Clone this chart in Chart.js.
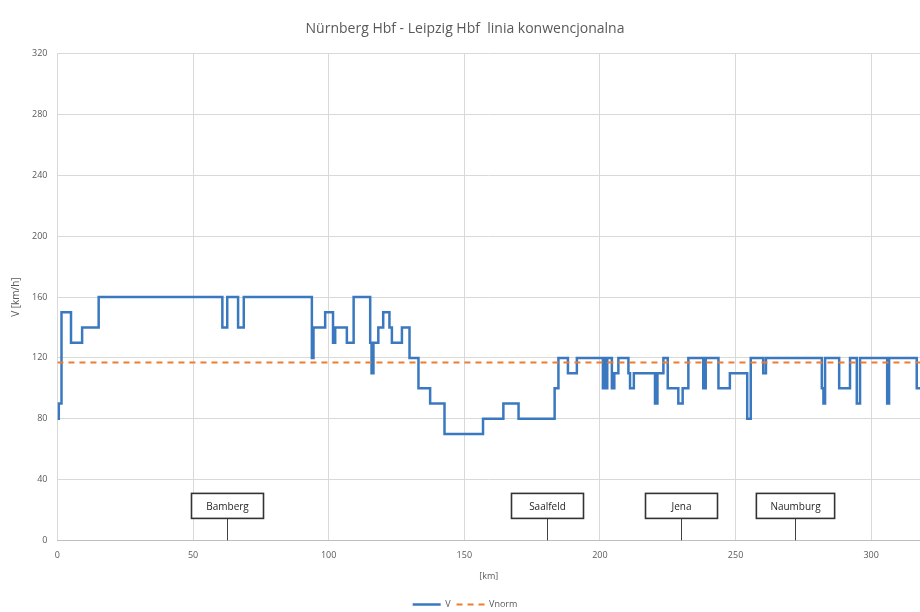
<!DOCTYPE html>
<html>
<head>
<meta charset="utf-8">
<script src="https://cdn.jsdelivr.net/npm/chart.js@4/dist/chart.umd.min.js"></script>
<style>
html,body{margin:0;padding:0;background:#fff;}
#wrap{width:920px;height:612px;}
</style>
</head>
<body>
<div id="wrap"><canvas id="c" width="920" height="612"></canvas></div>
<script>
// ---- data ----
const kmPoints = [0, 0.5, 1.5, 5.0, 9.1, 15.2, 60.8, 62.6, 66.6, 68.7, 93.8, 94.4, 98.7, 101.6, 102.4, 106.7, 109.2, 115.3, 115.8, 116.5, 118.3, 120.1, 122.4, 123.3, 127.0, 129.8, 133.1, 137.4, 142.7, 156.9, 164.4, 170.0, 183.3, 184.7, 188.2, 191.5, 201.1, 201.6, 202.2, 202.7, 204.4, 205.3, 206.8, 210.5, 211.1, 212.5, 220.3, 221.2, 223.4, 225.0, 228.9, 230.5, 232.6, 238.1, 239.0, 243.7, 247.9, 254.3, 255.6, 260.2, 261.2, 281.8, 282.4, 283.0, 288.2, 292.2, 294.7, 295.9, 305.9, 306.6, 316.8, 318];
const speedValues = [80, 90, 150, 130, 140, 160, 140, 160, 140, 160, 120, 140, 150, 130, 140, 130, 160, 130, 110, 130, 140, 150, 140, 130, 140, 120, 100, 90, 70, 80, 90, 80, 100, 120, 110, 120, 100, 120, 100, 120, 100, 110, 120, 110, 100, 110, 90, 110, 120, 100, 90, 100, 120, 100, 120, 100, 110, 80, 120, 110, 120, 100, 90, 120, 100, 120, 90, 120, 90, 120, 100, 100];
const vnormKm = [0, 318];
const vnormValues = [117, 117];
const stationNames = ['Bamberg', 'Saalfeld', 'Jena', 'Naumburg'];
const stationKm = [62.6, 180.5, 229.9, 271.9];
const seriesNames = ['V', 'Vnorm'];
const titleText = 'Nürnberg Hbf - Leipzig Hbf  linia konwencjonalna';
const xTitle = '[km]';
const yTitle = 'V [km/h]';

const FONT = "'Open Sans', Lato, 'Liberation Sans', sans-serif";

const stationPlugin = {
  id: 'stations',
  afterDatasetsDraw(chart) {
    const {ctx, chartArea, scales} = chart;
    ctx.save();
    ctx.font = '10px ' + FONT;
    stationNames.forEach((name, i) => {
      const x = Math.round(scales.x.getPixelForValue(stationKm[i])) + 0.5;
      const boxBottom = chartArea.bottom - 22;
      const boxTop = chartArea.bottom - 47;
      const tw = ctx.measureText(name).width;
      const w = Math.max(72, tw + 28);
      ctx.strokeStyle = '#404040';
      ctx.lineWidth = 1;
      ctx.beginPath();
      ctx.moveTo(x, boxBottom);
      ctx.lineTo(x, chartArea.bottom);
      ctx.stroke();
      ctx.fillStyle = '#ffffff';
      ctx.fillRect(x - w / 2, boxTop, w, boxBottom - boxTop);
      ctx.lineWidth = 1.6;
      ctx.strokeStyle = '#333333';
      ctx.strokeRect(x - w / 2, boxTop, w, boxBottom - boxTop);
      ctx.fillStyle = '#262626';
      ctx.textAlign = 'center';
      ctx.textBaseline = 'middle';
      ctx.fillText(name, x, (boxTop + boxBottom) / 2 + 1);
    });
    ctx.restore();
  }
};

const ctx = document.getElementById('c').getContext('2d');
new Chart(ctx, {
  type: 'line',
  data: {
    datasets: [
      {
        label: seriesNames[0],
        data: kmPoints.map((k, i) => ({x: k, y: speedValues[i]})),
        borderColor: '#3a78bf',
        backgroundColor: '#3a78bf',
        borderWidth: 2.5,
        stepped: true,
        pointRadius: 0,
        fill: false,
        order: 2
      },
      {
        label: seriesNames[1],
        data: vnormKm.map((k, i) => ({x: k, y: vnormValues[i]})),
        borderColor: '#ED7D31',
        backgroundColor: '#ED7D31',
        borderWidth: 2,
        borderDash: [6, 5],
        pointRadius: 0,
        fill: false,
        order: 1
      }
    ]
  },
  options: {
    responsive: false,
    animation: false,
    devicePixelRatio: 1,
    layout: {padding: {left: 10, right: 0, top: 13, bottom: -7}},
    plugins: {
      title: {
        display: true,
        text: titleText,
        color: '#595959',
        font: {family: FONT, size: 14, weight: 'normal'},
        padding: {top: 8, bottom: 16}
      },
      legend: {
        position: 'bottom',
        labels: {
          usePointStyle: true,
          pointStyle: 'line',
          pointStyleWidth: 28,
          boxWidth: 28,
          boxHeight: 6,
          color: '#595959',
          font: {family: FONT, size: 9},
          padding: 6,
          sort: (a, b) => a.datasetIndex - b.datasetIndex,
          generateLabels: (chart) => {
            const items = Chart.defaults.plugins.legend.labels.generateLabels(chart);
            items.forEach(it => {
              const ds = chart.data.datasets[it.datasetIndex];
              it.lineDash = ds.borderDash || [];
              it.lineWidth = ds.borderWidth;
              it.strokeStyle = ds.borderColor;
              it.fillStyle = ds.borderColor;
            });
            return items;
          }
        }
      },
      tooltip: {enabled: false}
    },
    scales: {
      x: {
        type: 'linear',
        min: 0,
        max: 318,
        ticks: {
          stepSize: 50,
          includeBounds: false,
          color: '#595959',
          font: {family: FONT, size: 9},
          maxRotation: 0,
          padding: 10
        },
        grid: {color: '#d9d9d9', drawTicks: false},
        border: {color: '#bfbfbf'},
        title: {display: true, text: xTitle, color: '#595959', font: {family: FONT, size: 9}, padding: {top: 0, bottom: 12}}
      },
      y: {
        min: 0,
        max: 320,
        ticks: {
          stepSize: 40,
          color: '#595959',
          font: {family: FONT, size: 9},
          padding: 10
        },
        grid: {color: '#d9d9d9', drawTicks: false},
        border: {display: false},
        title: {display: true, text: yTitle, color: '#595959', font: {family: FONT, size: 10}, padding: {top: 0, bottom: 0}}
      }
    }
  },
  plugins: [stationPlugin]
});
</script>
</body>
</html>
